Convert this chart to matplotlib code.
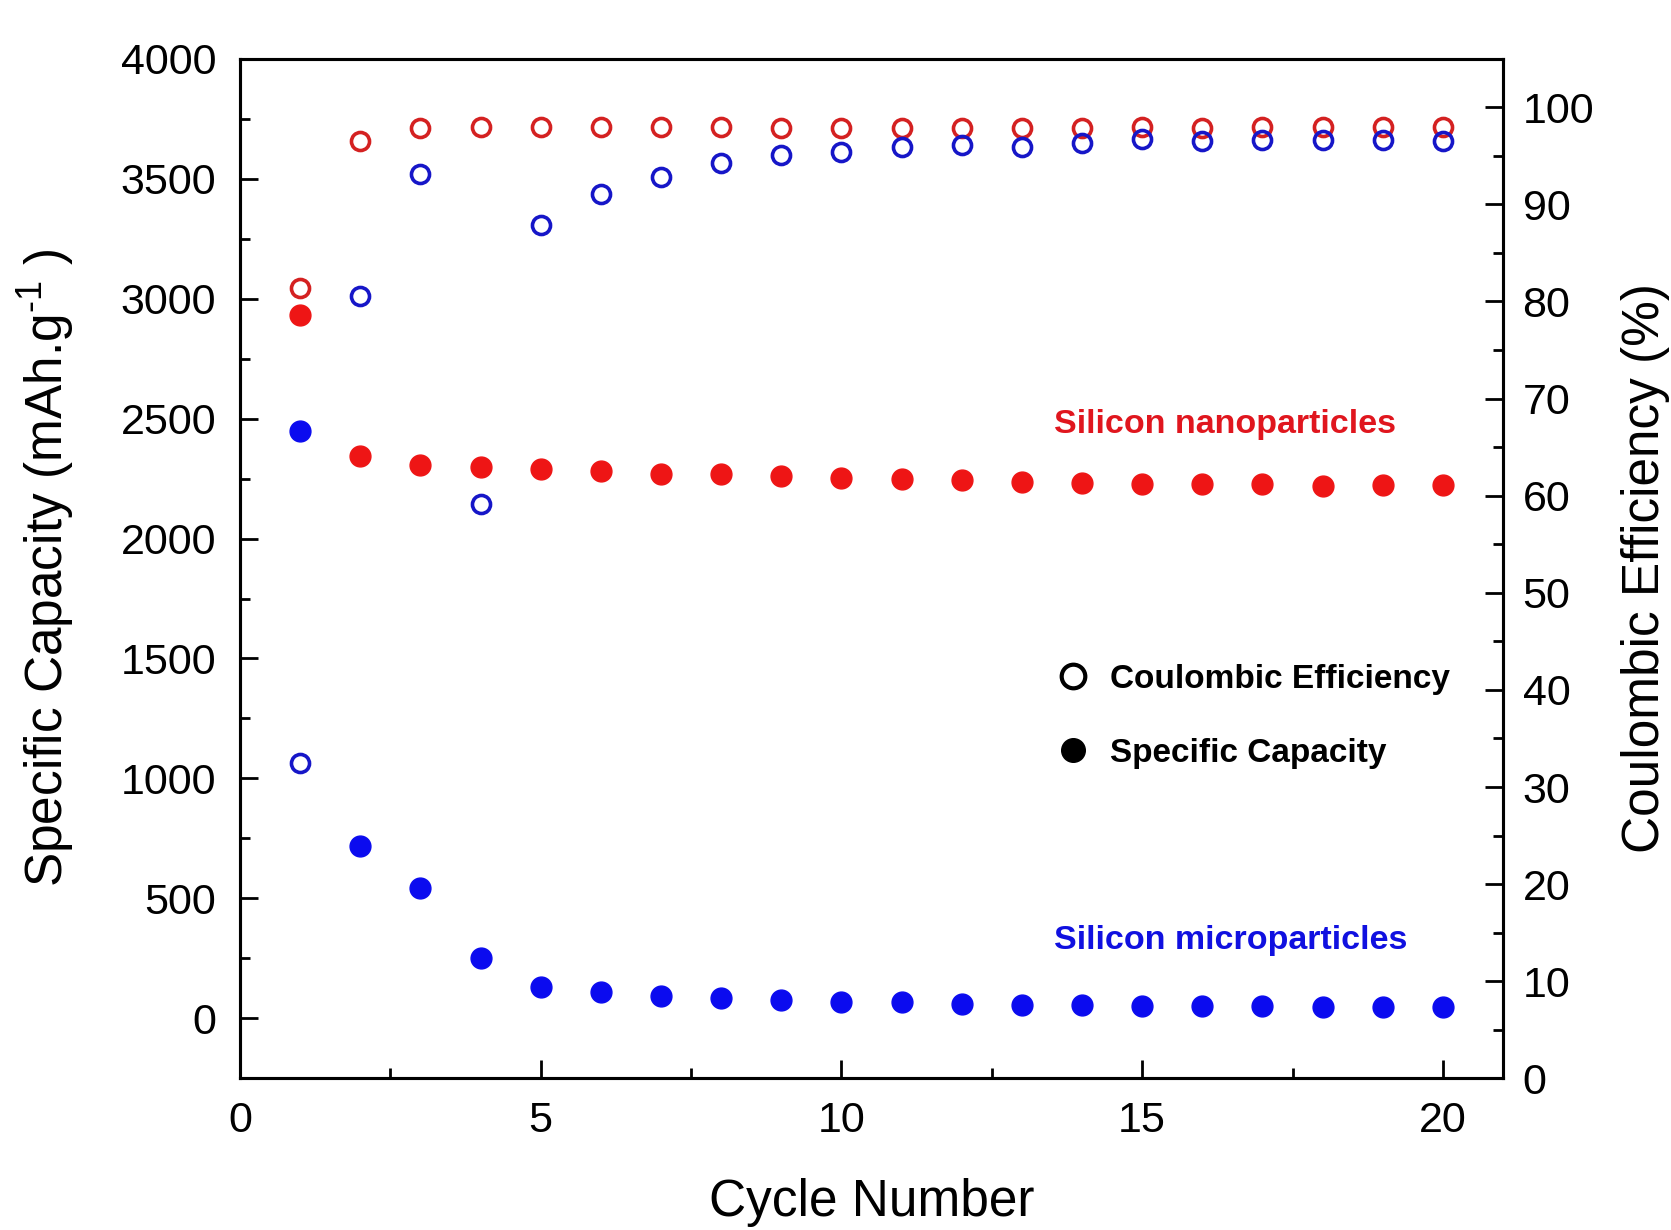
import matplotlib
matplotlib.use("Agg")
import matplotlib.pyplot as plt
from matplotlib.lines import Line2D
from matplotlib.ticker import MultipleLocator

plt.rcParams['font.family'] = ['Liberation Sans', 'DejaVu Sans']
plt.rcParams['mathtext.fontset'] = 'custom'
plt.rcParams['mathtext.rm'] = 'Liberation Sans'
plt.rcParams['mathtext.it'] = 'Liberation Sans:italic'
plt.rcParams['mathtext.bf'] = 'Liberation Sans:bold'

# ---- data ----
cycles = list(range(1, 21))
nano_capacity = [2930, 2342, 2307, 2298, 2289, 2280, 2268, 2267, 2262, 2254,
                 2249, 2244, 2236, 2231, 2228, 2226, 2226, 2220, 2224, 2225]
micro_capacity = [2449, 720, 542, 253, 133, 111, 93, 84, 76, 68,
                  67, 62, 58, 58, 54, 52, 52, 49, 49, 48]
nano_ce = [81.4, 96.5, 97.8, 98.0, 98.0, 98.0, 98.0, 98.0, 97.9, 97.9,
           97.9, 97.9, 97.9, 97.9, 98.0, 97.9, 98.0, 98.0, 98.0, 98.0]
micro_ce = [32.5, 80.6, 93.1, 59.1, 87.9, 91.1, 92.8, 94.2, 95.1, 95.4,
            95.9, 96.1, 95.9, 96.3, 96.7, 96.5, 96.6, 96.6, 96.6, 96.5]

red_fill = '#EE1515'
red_edge = '#D42121'
blue_fill = '#0B0BEF'
blue_edge = '#1616C8'

fig = plt.figure(figsize=(16.71, 12.30), dpi=100)
ax = fig.add_axes([0.1436, 0.1232, 0.7559, 0.8292])
ax2 = ax.twinx()

# capacity (left axis)
ax.plot(cycles, nano_capacity, linestyle='none', marker='o', markersize=15,
        markerfacecolor=red_fill, markeredgecolor=red_fill, zorder=3)
ax.plot(cycles, micro_capacity, linestyle='none', marker='o', markersize=15,
        markerfacecolor=blue_fill, markeredgecolor=blue_fill, zorder=3)

# coulombic efficiency (right axis)
ax2.plot(cycles, nano_ce, linestyle='none', marker='o', markersize=13,
         markerfacecolor='none', markeredgecolor=red_edge, markeredgewidth=2.6)
ax2.plot(cycles, micro_ce, linestyle='none', marker='o', markersize=13,
         markerfacecolor='none', markeredgecolor=blue_edge, markeredgewidth=2.6)

ax.set_xlim(0, 21)
ax.set_ylim(-250, 4000)
ax2.set_ylim(0, 105)

ax.xaxis.set_major_locator(MultipleLocator(5))
ax.xaxis.set_minor_locator(MultipleLocator(2.5))
ax.yaxis.set_major_locator(MultipleLocator(500))
ax.yaxis.set_minor_locator(MultipleLocator(250))
ax2.yaxis.set_major_locator(MultipleLocator(10))
ax2.yaxis.set_minor_locator(MultipleLocator(5))

for a in (ax, ax2):
    for s in a.spines.values():
        s.set_linewidth(2.2)

ax.tick_params(axis='both', which='major', direction='in', length=13, width=2,
               labelsize=31, pad=17, top=False, right=False)
ax.tick_params(axis='both', which='minor', direction='in', length=7, width=2,
               top=False, right=False)
ax.tick_params(axis='x', pad=16)
ax2.tick_params(axis='y', which='major', direction='in', length=13, width=2,
                labelsize=31, pad=14)
ax2.tick_params(axis='y', which='minor', direction='in', length=7, width=2)

ax.set_xlabel('Cycle Number', fontsize=37)
ax.set_ylabel(r'Specific Capacity (mAh.g$^{\text{-}1}$ )', fontsize=37)
ax2.set_ylabel('Coulombic Efficiency (%)', fontsize=37)
ax.xaxis.set_label_coords(0.5, -0.098)
ax.yaxis.set_label_coords(-0.129, 0.5)
ax2.yaxis.set_label_coords(1.093, 0.5)

ax.text(13.54, 2476, 'Silicon nanoparticles', color='#E0161E', fontsize=24.5,
        fontweight='bold', ha='left', va='center')
ax.text(13.54, 324, 'Silicon microparticles', color='#1010E0', fontsize=24.5,
        fontweight='bold', ha='left', va='center')

handles = [
    Line2D([], [], linestyle='none', marker='o', markersize=17,
           markerfacecolor='none', markeredgecolor='black', markeredgewidth=3),
    Line2D([], [], linestyle='none', marker='o', markersize=17,
           markerfacecolor='black', markeredgecolor='black'),
]
ax2.legend(handles, ['Coulombic Efficiency', 'Specific Capacity'],
           loc='center left', bbox_to_anchor=(0.645, 0.355), frameon=False,
           prop={'weight': 'bold', 'size': 24}, borderaxespad=0, borderpad=0,
           handlelength=1.1, handletextpad=0.55, labelspacing=1.3)

fig.savefig('out.png', dpi=100)
